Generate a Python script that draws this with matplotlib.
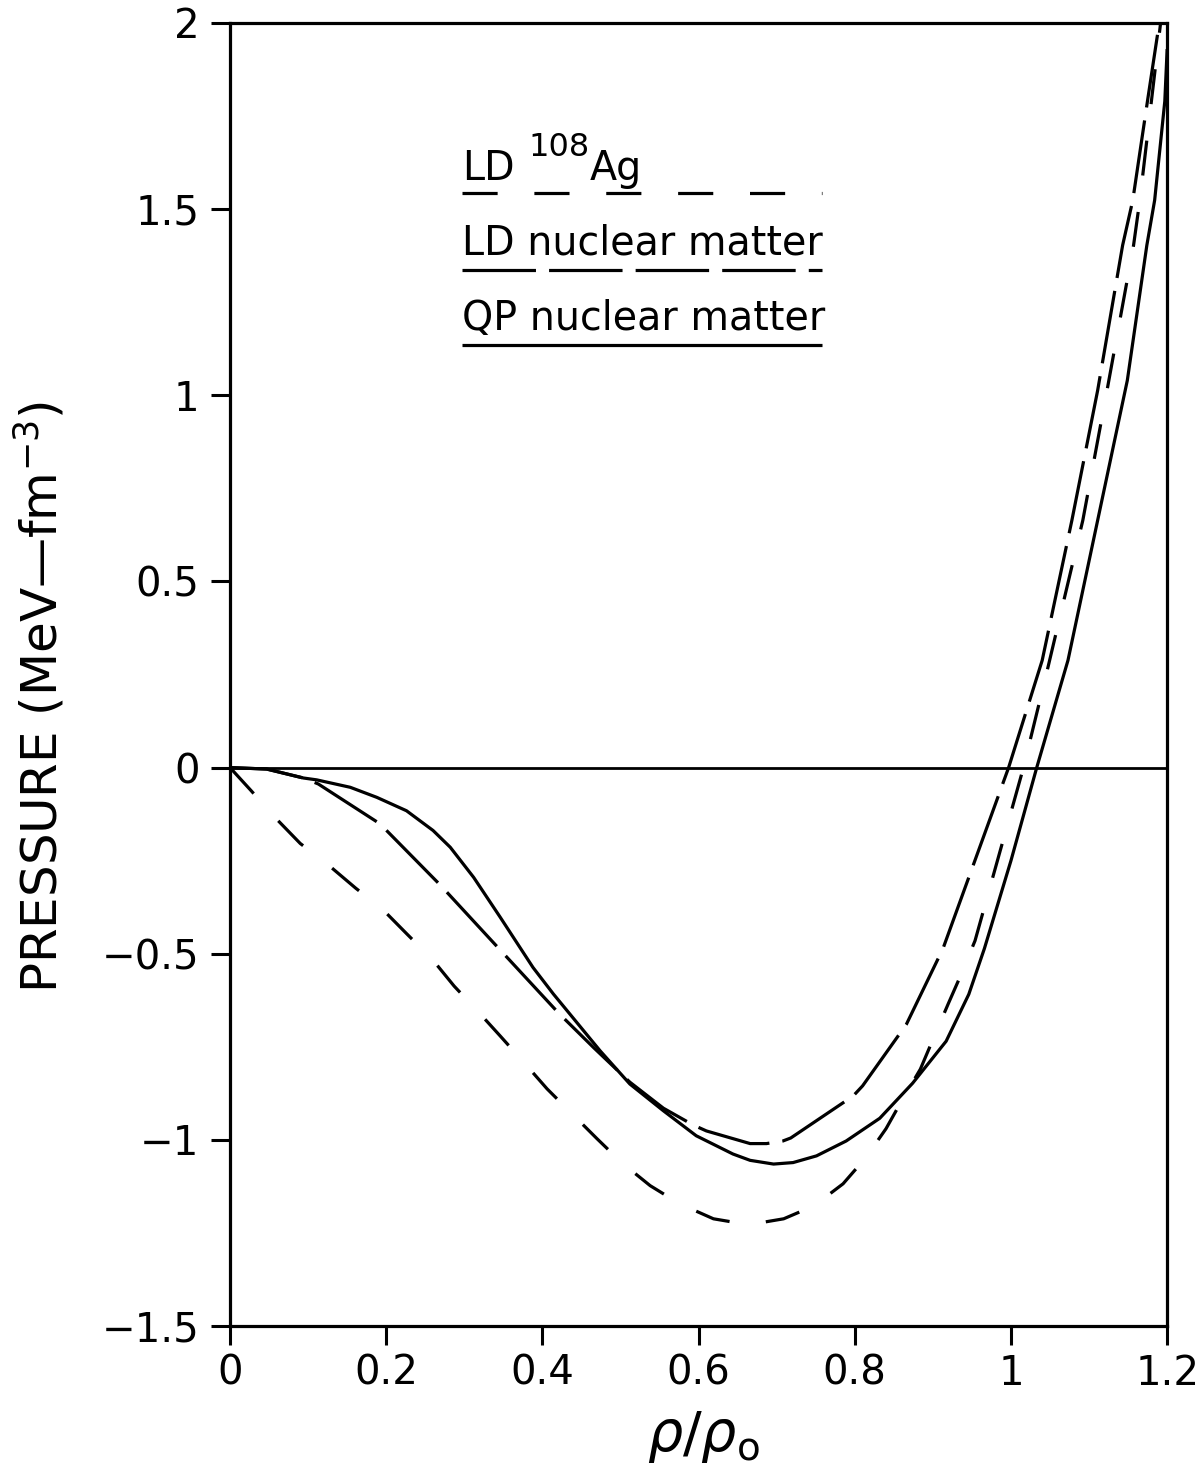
import matplotlib
matplotlib.use("Agg")
import matplotlib.pyplot as plt
from matplotlib.lines import Line2D

plt.rcParams['font.family'] = ['DejaVu Sans']
plt.rcParams['mathtext.fontset'] = 'dejavusans'

# QP nuclear matter (solid)
qp_x = [0, 0.047, 0.094, 0.111, 0.154, 0.188, 0.226, 0.26, 0.282, 0.312, 0.346, 0.388,
        0.414, 0.474, 0.512, 0.555, 0.597, 0.644, 0.666, 0.696, 0.721, 0.751, 0.789,
        0.832, 0.874, 0.917, 0.946, 0.966, 1.0, 1.033, 1.073, 1.111, 1.149, 1.174,
        1.184, 1.197, 1.2]
qp_y = [0, -0.004, -0.028, -0.033, -0.053, -0.08, -0.116, -0.169, -0.214, -0.295, -0.402, -0.537,
        -0.608, -0.761, -0.85, -0.922, -0.989, -1.038, -1.055, -1.065, -1.061, -1.043, -1.003,
        -0.942, -0.848, -0.735, -0.609, -0.486, -0.25, 0.0, 0.288, 0.664, 1.04, 1.403,
        1.524, 1.79, 1.93]

# LD nuclear matter (long dashes)
ldnm_x = [0, 0.047, 0.094, 0.113, 0.192, 0.269, 0.346, 0.421, 0.466, 0.512, 0.555, 0.593,
          0.61, 0.666, 0.687, 0.708, 0.718, 0.798, 0.81, 0.866, 0.913, 0.997, 1.04, 1.078,
          1.111, 1.143, 1.156, 1.175, 1.2]
ldnm_y = [0, -0.004, -0.028, -0.044, -0.151, -0.315, -0.49, -0.66, -0.753, -0.845, -0.915, -0.96,
          -0.976, -1.01, -1.01, -1.003, -0.995, -0.882, -0.855, -0.69, -0.486, 0.0, 0.288, 0.664,
          1.013, 1.403, 1.524, 1.793, 2.14]

# LD 108Ag (short dashes)
ag_x = [0, 0.027, 0.059, 0.09, 0.125, 0.161, 0.195, 0.227, 0.259, 0.287, 0.317, 0.346,
        0.378, 0.406, 0.438, 0.47, 0.502, 0.538, 0.576, 0.619, 0.664, 0.709, 0.748, 0.785,
        0.814, 0.84, 0.862, 0.884, 0.903, 0.92, 0.938, 0.954, 1.016, 1.047, 1.092, 1.123,
        1.157, 1.165, 1.18, 1.2]
ag_y = [0, -0.062, -0.137, -0.204, -0.26, -0.324, -0.38, -0.448, -0.515, -0.587, -0.654, -0.721,
        -0.796, -0.863, -0.93, -0.997, -1.062, -1.123, -1.172, -1.212, -1.228, -1.212, -1.177, -1.118,
        -1.048, -0.97, -0.888, -0.81, -0.716, -0.633, -0.547, -0.465, 0.0, 0.266, 0.664, 1.013,
        1.403, 1.524, 1.793, 2.15]

x_ticks = [0, 0.2, 0.4, 0.6, 0.8, 1, 1.2]
x_ticklabels = ['0', '0.2', '0.4', '0.6', '0.8', '1', '1.2']
y_ticks = [-1.5, -1, -0.5, 0, 0.5, 1, 1.5, 2]
y_ticklabels = ['\u22121.5', '\u22121', '\u22120.5', '0', '0.5', '1', '1.5', '2']

legend_labels = ['LD', 'LD nuclear matter', 'QP nuclear matter']

LW = 2.3
DASH_AG = (11.0, 11.5)
DASH_NM = (23, 4.1)

fig = plt.figure(figsize=(12.03, 14.74), dpi=100)
ax = fig.add_axes([0.1912, 0.1004, 0.779, 0.884])

ax.plot(qp_x, qp_y, color='black', lw=LW, solid_capstyle='butt', solid_joinstyle='round')
ax.plot(ldnm_x, ldnm_y, color='black', lw=LW, dashes=DASH_NM, dash_capstyle='butt',
        dash_joinstyle='round')
ax.plot(ag_x, ag_y, color='black', lw=LW, dashes=DASH_AG, dash_capstyle='butt',
        dash_joinstyle='round')
ax.axhline(0, color='black', lw=2.0)

ax.set_xlim(0, 1.2)
ax.set_ylim(-1.5, 2)
ax.set_xticks(x_ticks)
ax.set_xticklabels(x_ticklabels)
ax.set_yticks(y_ticks)
ax.set_yticklabels(y_ticklabels)
ax.tick_params(axis='both', direction='out', length=14, width=2.2, labelsize=29,
               top=False, right=False)
ax.tick_params(axis='x', pad=6)
ax.tick_params(axis='y', pad=8)
for s in ax.spines.values():
    s.set_linewidth(2.3)

# legend drawn as text with sample line underneath
lx0, lx1 = 0.2476, 0.632
text_y = [0.8795, 0.822, 0.7644]
line_y = [0.8695, 0.8104, 0.7529]
styles = [dict(dashes=DASH_AG), dict(dashes=DASH_NM), dict()]
for lab, ty, ly, st in zip(legend_labels, text_y, line_y, styles):
    ax.text(lx0, ty, lab, transform=ax.transAxes, fontsize=28.5, ha='left', va='baseline')
    ax.add_line(Line2D([lx0, lx1], [ly, ly], transform=ax.transAxes, color='black',
                       lw=LW, dash_capstyle='butt', solid_capstyle='butt', **st))
ax.text(0.318, 0.898, '108', transform=ax.transAxes, fontsize=23, ha='left', va='baseline')
ax.text(0.384, text_y[0], 'Ag', transform=ax.transAxes, fontsize=28.5, ha='left', va='baseline')

fig.text(40 / 1203, 1 - 697 / 1474, 'PRESSURE (MeV\u2014fm$^{-3}$)', rotation=90,
         fontsize=36, ha='center', va='center')
fig.text(703 / 1203, 1 - 1437 / 1474, r'$\rho/\rho_{\rm o}$', fontsize=40,
         ha='center', va='center')

fig.savefig('out.png', dpi=100)
